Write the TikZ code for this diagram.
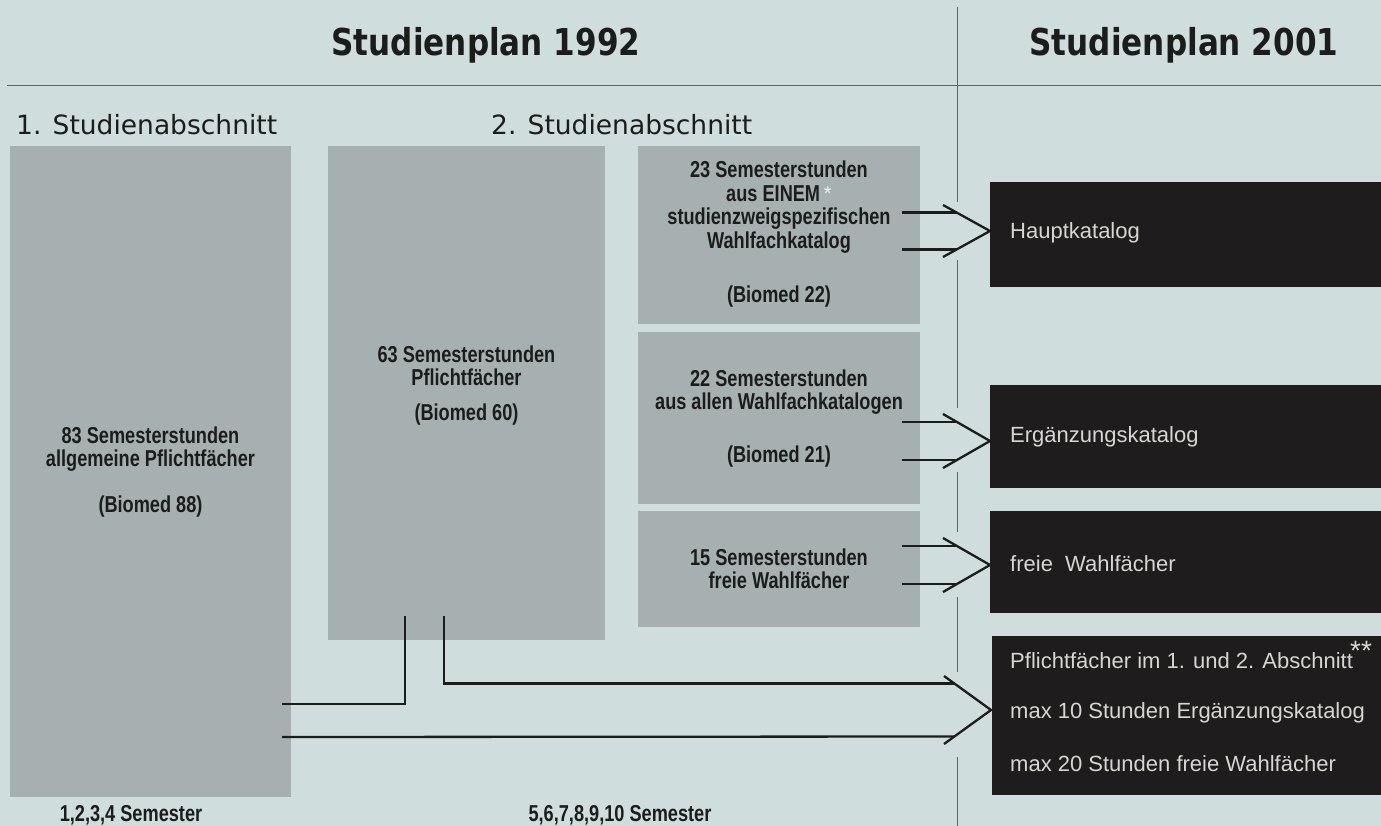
\documentclass[tikz,border=0pt]{standalone}
\usepackage{fontspec}
\setmainfont{DejaVu Sans}
\newfontfamily\titlefont{DejaVu Sans}[FakeStretch=0.84]
\newfontfamily\condfont{Liberation Sans}[FakeStretch=0.79]
\newfontfamily\helvfont{Liberation Sans}
\usetikzlibrary{calc}
\definecolor{bg}{RGB}{207,221,221}
\definecolor{boxgray}{RGB}{167,176,176}
\definecolor{boxdark}{RGB}{30,28,28}
\definecolor{darktext}{RGB}{214,214,210}
\definecolor{ink}{RGB}{28,28,28}
\definecolor{rulecol}{RGB}{95,100,100}
\definecolor{starcol}{RGB}{235,242,242}
\newcommand\feed[5]{%
  \path ($(#2.west)+(0,#3)$) coordinate (apx);
  \path ($(apx)+(0,-#4)$) coordinate (upl) ($(apx)+(0,#4)$) coordinate (lol);
  \path (#1.east |- upl) coordinate (su) (#1.east |- lol) coordinate (sl);
  \draw[conn] ($(apx)+(-47,-#5)$) -- (apx) -- ($(apx)+(-47,#5)$);
  \draw[conn] ($(su)+(-18,0)$) -- ($(upl)+({-47*#4/#5},0)$);
  \draw[conn] ($(sl)+(-18,0)$) -- ($(lol)+({-47*#4/#5},0)$);
}
\begin{document}
\begin{tikzpicture}[x=1pt,y=-1pt,
  graybox/.style={fill=boxgray, draw=none, anchor=north west, inner sep=0, outer sep=0},
  darkbox/.style={fill=boxdark, draw=none, anchor=north west, inner sep=0, outer sep=0},
  boxtext/.style={font=\condfont\bfseries\fontsize{23}{23.5}\selectfont, text=ink, align=center, inner sep=0},
  darktxt/.style={font=\helvfont\fontsize{22}{24}\selectfont, text=darktext, anchor=west, inner sep=0},
  heading/.style={font=\fontsize{26.5}{28}\selectfont, text=ink, anchor=base west, inner sep=0},
  titletxt/.style={font=\titlefont\bfseries\fontsize{37}{40}\selectfont, text=ink, anchor=base, inner sep=0},
  conn/.style={draw=ink, line width=2.3pt},
  sepline/.style={draw=rulecol, line width=1pt},
]
\fill[bg] (0,0) rectangle (1381,826);
\useasboundingbox (0,0) rectangle (1381,826);

% titles and rules
\node[titletxt] (t1) at (486,56) {Studienplan 1992};
\node[titletxt] (t2) at (1184,56) {Studienplan 2001};
\draw[sepline] (7,86) -- (1381,86);
\draw[sepline] (957,7) -- (957,202) (957,260) -- (957,408) (957,472) -- (957,532)
  (957,597) -- (957,672) (957,757) -- (957,826);

% headings
\node[heading] (h1) at (16,135) {1. Studienabschnitt};
\node[heading] (h2) at (491,135) {2. Studienabschnitt};

% gray boxes
\node[graybox, minimum width=281, minimum height=651] (A) at (10,146) {};
\node[graybox, minimum width=277, minimum height=494] (B) at (328,146) {};
\node[graybox, minimum width=282, minimum height=178] (C1) at (638,146) {};
\node[graybox, minimum width=282, minimum height=172] (C2) at (638,332) {};
\node[graybox, minimum width=282, minimum height=116] (C3) at (638,511) {};

% dark boxes
\node[darkbox, minimum width=391, minimum height=105] (hk) at (990,182) {};
\node[darkbox, minimum width=391, minimum height=103] (ek) at (990,385) {};
\node[darkbox, minimum width=391, minimum height=102] (fw) at (990,511) {};
\node[darkbox, minimum width=389, minimum height=159] (pf) at (992,636) {};

% texts in gray boxes
\node[boxtext] (A1) at (150.5,449) {83 Semesterstunden\\allgemeine Pflichtfächer};
\node[boxtext] (A2) at (150.5,507) {(Biomed 88)};
\node[boxtext] (B1) at (466.5,366) {63 Semesterstunden\\Pflichtfächer};
\node[boxtext] (B2) at (466.5,415) {(Biomed 60)};
\node[boxtext] (C1a) at (779,207) {23 Semesterstunden\\aus EINEM\,{\color{starcol}\helvfont\mdseries\fontsize{20}{20}\selectfont\raisebox{1pt}{*}}\\studienzweigspezifischen\\Wahlfachkatalog};
\node[boxtext] (C1b) at (779,297) {(Biomed 22)};
\node[boxtext] (C2a) at (779,392) {22 Semesterstunden\\aus allen Wahlfachkatalogen};
\node[boxtext] (C2b) at (779,457) {(Biomed 21)};
\node[boxtext] (C3a) at (779,569) {15 Semesterstunden\\freie Wahlfächer};

% texts in dark boxes
\node[darktxt] (hkt) at (1010,233) {Hauptkatalog};
\node[darktxt] (ekt) at (1010,437) {Ergänzungskatalog};
\node[darktxt] (fwt) at (1010,564) {freie\ \ Wahlfächer};
\node[darktxt] (pf1) at (1010,661) {Pflichtfächer im 1. und 2. Abschnitt};
\node[darktxt] (pf2) at (1010,713) {max 10 Stunden Ergänzungskatalog};
\node[darktxt] (pf3) at (1010,764) {max 20 Stunden freie Wahlfächer};
\node[font=\helvfont\fontsize{28}{28}\selectfont, text=darktext, anchor=north west, inner sep=0] (stars) at (1350,641) {**};

% bottom labels
\node[boxtext] (s1) at (131,815) {1,2,3,4 Semester};
\node[boxtext] (s2) at (620,815) {5,6,7,8,9,10 Semester};

% arrows to the catalogues
\feed{C1}{hk}{-3.5}{18.5}{26}
\feed{C2}{ek}{4.5}{19}{27}
\feed{C3}{fw}{3}{19}{27}

% connectors from the Pflichtfach boxes
\coordinate (a1) at (282,704);
\coordinate (b1) at (405,616);
\coordinate (b2) at (444,616);
\coordinate (a2) at (282,737);
\path ($(pf.west)+(-1,-5.5)$) coordinate (papx);
\draw[conn] (a1) -| (b1);
\draw[conn] (b2) |- ($(papx)+({-47*26.5/34},-26.5)$);
\draw[conn] (a2) -- ($(papx)+({-47*26.5/34},26.5)$);
\draw[conn] ($(papx)+(-47,-34)$) -- (papx) -- ($(papx)+(-47,34)$);
\end{tikzpicture}
\end{document}
